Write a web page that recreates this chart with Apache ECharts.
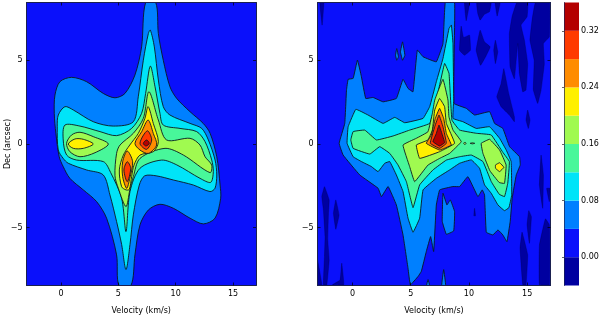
<!DOCTYPE html>
<html><head><meta charset="utf-8">
<style>html,body{margin:0;padding:0;background:#fff}#c{width:600px;height:315px}</style>
<script src="https://cdn.jsdelivr.net/npm/echarts@6/dist/echarts.min.js"></script></head>
<body><div id="c"></div>
<script>
// band limits and colours of the shared colour scale
const bandEdges=[-0.04,0,0.04,0.08,0.12,0.16,0.20,0.24,0.28,0.32,0.36];
const bandColors=['#0000a0','#0a10fb','#0080ff','#00e4f8','#48f79a','#a0fa50','#fff000','#ff8c00','#ff3a00','#b40000'];
const xTicks=[0,5,10,15];
const yTicks=[-5,0,5];
const barTicks=[0,0.08,0.16,0.24,0.32];

// contour outlines of the left panel: [velocity, dec]
const left04=[[[8.26,8.45],[8.49,6.6],[8.92,5.0],[9.5,3.42],[10.09,2.72],[11.25,1.93],[12.4,1.23],[13.0,0.64],[13.58,-0.76],[13.87,-2.45],[13.92,-3.24],[13.43,-4.43],[12.41,-4.77],[11.25,-4.43],[9.8,-3.84],[8.63,-3.6],[7.62,-3.94],[6.89,-4.83],[6.45,-6.62],[6.1,-8.45],[5.06,-8.45],[4.85,-6.62],[3.98,-4.43],[3.11,-3.44],[1.95,-2.74],[0.78,-2.05],[0.2,-1.35],[-0.15,-0.76],[-0.44,0.64],[-0.58,1.83],[-0.52,2.92],[-0.09,3.72],[0.93,3.98],[2.24,3.72],[3.69,3.02],[4.71,2.76],[5.58,3.02],[6.45,4.12],[7.03,5.8],[7.38,8.45]]];
const left08=[[[7.79,6.8],[8.14,5.8],[8.49,3.82],[8.92,2.23],[9.5,1.73],[11.25,1.23],[12.27,0.93],[12.85,0.24],[13.43,-0.95],[13.58,-1.85],[13.43,-2.64],[12.99,-2.84],[11.54,-2.45],[9.8,-2.15],[8.3,-1.9],[7.3,-1.9],[6.83,-2.45],[6.31,-4.23],[6.02,-6.0],[5.67,-7.5],[5.29,-6.0],[4.85,-4.63],[4.27,-3.04],[3.69,-1.85],[2.24,-1.55],[0.64,-1.15],[0.2,-0.86],[-0.23,-0.36],[-0.32,1.03],[-0.23,1.73],[0.35,2.23],[1.08,2.03],[2.82,1.33],[4.56,1.07],[6.31,1.33],[6.74,2.82],[7.18,5.0],[7.62,6.6]]];
const left12=[[[7.79,4.65],[8.2,3.42],[8.63,1.83],[8.92,1.13],[10.38,0.93],[11.83,0.74],[12.56,0.14],[13.14,-0.95],[13.28,-1.65],[13.05,-2.29],[12.12,-2.05],[10.1,-1.25],[8.77,-0.96],[6.89,-1.45],[6.02,-2.84],[5.67,-5.23],[5.29,-3.24],[4.33,-1.7],[3.69,-1.05],[1.37,-0.96],[0.5,-0.66],[0.2,0.24],[0.35,1.13],[1.66,1.07],[3.4,0.74],[4.85,0.5],[6.16,0.93],[7.03,1.83],[7.38,3.02]]];
const left16=[[[0.49,0.04],[0.93,0.54],[1.66,0.7],[2.82,0.44],[4.13,0],[2.97,-0.52],[1.66,-0.76],[0.78,-0.46]],
[[7.67,3.12],[8.49,1.43],[9.21,0.24],[11.25,0.34],[12.12,-0.06],[12.56,-0.76],[13.14,-1.26],[12.99,-1.71],[10.67,-0.66],[9.07,-0.26],[6.89,-0.86],[6.31,-1.95],[6.0,-2.75],[5.67,-3.74],[5.0,-2.64],[4.71,-1.9],[4.85,-0.56],[5.15,-0.06],[6.31,0.64],[7.18,1.53]]];
const left20=[[[0.64,0],[1.22,0.3],[1.95,0.28],[2.82,0],[1.95,-0.26],[1.08,-0.26]],
[[7.6,2.23],[8.05,1.23],[8.49,0.14],[8.05,-0.46],[6.89,-0.66],[6.37,-1.26],[6.16,-1.95],[5.96,-2.71],[5.67,-2.74],[5.29,-2.55],[5.09,-1.55],[5.44,-0.66],[6.0,-0.06],[6.74,0.63],[7.32,1.53]]];
const left24=[[[7.6,1.43],[8.05,0.63],[8.34,-0.06],[7.62,-0.56],[6.89,-0.36],[6.45,0.04],[7.03,0.73]],
[[5.78,-0.42],[6.25,-1.06],[6.0,-2.05],[5.73,-2.65],[5.38,-1.95],[5.38,-1.06]]];
const left28=[[[7.53,0.79],[7.91,0.24],[7.47,-0.32],[6.89,0.04]],
[[5.78,-1.06],[6.08,-1.45],[5.78,-2.25],[5.49,-1.55]]];
const left32=[[[7.47,0.24],[7.7,0.04],[7.41,-0.12],[7.18,0.04]]];

// contour outlines of the right panel: [velocity, dec]
const rightNeg=[[[-2.8,8.45],[-2.46,8.45],[-2.6,7.1]],
[[9.62,8.43],[10.05,8.43],[9.76,7.36]],
[[10.67,8.43],[11.9,8.43],[11.76,7.9],[11.33,7.75],[10.96,7.4],[10.76,7.8]],
[[12.25,8.43],[12.67,8.43],[12.42,7.64]],
[[9.33,7.04],[9.53,6.36],[10.05,6.5],[10.13,5.6],[9.62,5.3],[9.19,5.6]],
[[10.96,6.8],[11.33,6.1],[11.82,5.8],[11.42,5.2],[10.99,4.7],[10.62,5.6]],
[[12.27,6.2],[12.47,5.5],[12.27,4.8],[12.13,5.6]],
[[12.99,4.5],[13.42,3.0],[13.9,1.63],[13.9,1.33],[13.47,1.73],[12.76,2.23],[12.39,2.82],[12.76,3.6]],
[[14.1,8.43],[15.04,8.43],[14.99,7.6],[14.47,7.1],[14.76,6.2],[15.04,4.81],[14.9,3.22],[14.62,3.12],[14.33,4.21],[14.19,6.0],[13.9,3.9],[13.53,4.61],[13.47,6.6],[13.7,7.6]],
[[15.42,7.4],[15.7,8.43],[16.9,8.43],[16.9,6.4],[16.39,6.0],[16.47,4.81],[16.19,3.22],[15.9,2.42],[15.53,3.22],[15.6,5.0],[15.24,6.2]],
[[15.04,2.03],[15.24,1.43],[15.1,0.93],[14.9,1.43]],
[[16.19,-0.66],[16.39,-1.85],[16.33,-3.84],[16.05,-2.45]],
[[16.67,-2.65],[16.96,-2.65],[16.9,-3.44]],
[[15.13,-3.98],[15.36,-4.34],[15.19,-5.93],[14.99,-4.83]],
[[14.56,-5.27],[15.04,-6.62],[14.9,-8.41],[14.62,-8.41],[14.39,-6.23]],
[[16.56,-4.47],[16.9,-4.83],[16.9,-8.41],[16.05,-8.41],[16.05,-6.03]],
[[10.48,-3.84],[10.56,-4.28],[10.42,-4.28]],
[[-2.4,-2.55],[-2.0,-3.34],[-2.06,-4.14],[-2.12,-5.73],[-2.0,-6.92],[-2.2,-8.41],[-2.49,-8.41],[-2.4,-6.72],[-2.35,-5.53],[-2.49,-3.94],[-2.63,-3.14]],
[[-1.43,-3.34],[-1.15,-4.24],[-1.43,-5.09],[-1.63,-4.14]],
[[-3,-6.92],[-2.63,-8.41],[-3,-8.41]],
[[-0.92,-7.12],[-0.75,-8.41],[-1.72,-8.41],[-1.06,-8.12]]];
const right04=[[[8.77,8.45],[8.71,2.43],[9.77,2.13],[10.49,1.73],[11.77,1.93],[12.2,1.23],[12.91,0.93],[13.49,-0.16],[14.34,-0.76],[14.4,-1.25],[14.06,-1.85],[13.71,-3.24],[13.54,-4.63],[13.26,-5.83],[12.91,-5.43],[12.49,-5.13],[12.06,-5.43],[11.49,-5.27],[11.34,-3.04],[11.14,-2.74],[10.77,-3.14],[9.91,-1.95],[9.2,-2.54],[8.63,-2.54],[7.49,-2.74],[7.2,-3.64],[6.97,-6.42],[6.71,-5.53],[6.34,-6.42],[5.91,-7.61],[5.63,-7.91],[4.97,-8.41],[4.77,-7.42],[4.34,-5.43],[3.77,-3.64],[3.06,-2.54],[2.49,-3.14],[2.2,-2.64],[0.63,-1.85],[-0.8,-0.66],[-1.14,0.04],[-0.66,1.23],[-0.51,3.22],[-0.37,3.86],[0.06,3.92],[0.43,5.01],[0.77,4.02],[1.14,2.72],[1.77,2.78],[2.63,2.52],[3.77,2.72],[4.34,3.86],[4.77,3.32],[5.2,3.12],[5.57,5.61],[6.06,5.21],[7.2,4.91],[7.77,6.0],[7.97,8.45]],
[[3.8,5.7],[3.95,5.2],[3.8,5.0],[3.7,5.3]],[[4.3,6.1],[4.5,5.3],[4.3,5.0],[4.12,5.5]],
[[7.77,-2.94],[8.11,-3.64],[8.4,-3.34],[8.77,-4.04],[8.69,-5.19],[8.06,-5.39],[7.71,-4.63]],
[[6.49,-8.1],[6.62,-8.45],[6.36,-8.45]],[[7.83,-7.5],[8.0,-8.45],[7.66,-8.45]]];
const right08=[[[8.49,7.1],[8.63,6.0],[8.69,2.62],[8.63,1.53],[9.49,1.33],[10.63,0.93],[11.77,1.03],[12.63,0.34],[13.2,-0.36],[13.62,-1.05],[13.67,-3.04],[13.43,-3.8],[13.05,-3.98],[12.49,-3.64],[11.91,-2.94],[11.34,-2.44],[10.91,-1.45],[10.2,-0.95],[9.2,-1.15],[8.34,-1.55],[7.2,-2.05],[6.06,-2.74],[5.77,-4.43],[5.2,-5.27],[4.77,-4.43],[4.34,-2.84],[3.77,-1.85],[3.2,-1.05],[2.77,-1.15],[2.2,-1.65],[1.63,-1.35],[0.77,-1.05],[0.06,-0.76],[-0.46,0.04],[-0.37,1.03],[0.29,2.07],[1.34,1.73],[2.63,1.23],[3.63,1.59],[4.49,1.27],[6.06,1.53],[6.63,2.23],[7.2,3.72],[7.77,5.11],[8.29,6.9]]];
const right12=[[[7.91,4.81],[8.29,4.21],[8.54,1.43],[9.2,0.83],[10.63,0.64],[11.91,0.54],[12.91,-0.5],[13.47,-1.05],[13.33,-2.35],[13.05,-3.14],[12.6,-3.0],[11.91,-2.24],[11.2,-1.05],[10.2,-0.66],[9.2,-0.76],[8.06,-0.96],[6.91,-1.55],[5.77,-2.44],[5.2,-3.8],[4.63,-2.25],[3.91,-1.25],[3.2,-0.56],[2.34,-0.16],[1.49,-0.6],[0.06,-0.26],[-0.14,0.24],[0.06,0.74],[1.06,0.83],[2.06,0.24],[3.49,0.48],[4.91,0.83],[6.63,1.23],[7.2,2.62]]];
const right16=[[[7.77,3.86],[8.2,2.62],[8.28,1.63],[8.63,0.83],[9.34,0.14],[8.34,-0.56],[7.48,-0.86],[6.48,-1.26],[5.34,-2.25],[4.91,-1.35],[4.34,-0.06],[5.48,0.34],[6.48,0.73],[6.86,1.83],[7.06,2.62]],
[[11.05,0.04],[11.77,0.28],[12.63,-0.36],[13.19,-1.25],[13.05,-2.35],[12.6,-2.3],[11.8,-1.6],[11.2,-0.56]],
[[9.55,0.04],[9.65,0.12],[9.75,0.04],[9.65,-0.04]],[[10.1,0.04],[10.3,0.07],[10.5,0.04],[10.3,0.01]]];
const right20=[[[7.48,2.72],[7.91,2.23],[8.06,1.23],[8.77,0.04],[7.48,-0.46],[5.77,-0.86],[5.48,-0.06],[6.48,0.24],[6.86,0.83],[7.06,2.03]],
[[12.28,-1.25],[12.63,-1.12],[13.0,-1.39],[12.63,-1.65],[12.28,-1.45]]];
const right24=[[[7.48,2.13],[7.83,1.53],[8.06,0.63],[8.48,-0.06],[7.48,-0.36],[6.34,0.04],[6.77,0.53],[7.11,1.53]]];
const right28=[[[7.43,1.73],[7.77,1.03],[8.06,0.04],[7.48,-0.26],[6.68,0.04],[7.06,1.03]]];
const right32=[[[7.43,1.13],[7.77,0.43],[7.91,0.08],[7.48,-0.12],[6.91,0.14],[7.2,0.63]]];

const leftLevels=[[2,left04],[3,left08],[4,left12],[5,left16],[6,left20],[7,left24],[8,left28],[9,left32]];
const rightLevels=[[0,rightNeg],[2,right04],[3,right08],[4,right12],[5,right16],[6,right20],[7,right24],[8,right28],[9,right32]];

function items(levels){const out=[];levels.forEach(([band,polys])=>polys.forEach(p=>out.push({band,p})));return out;}
function contourSeries(idx,levels,smooth){
  const list=items(levels);
  return {type:'custom',coordinateSystem:'cartesian2d',xAxisIndex:idx,yAxisIndex:idx,clip:true,silent:true,z:2,
    data:list.map((_,i)=>[i]),encode:{x:[],y:[]},animation:false,
    renderItem:(params,api)=>{
      const it=list[api.value(0)];
      return {type:'polygon',shape:{points:it.p.map(q=>api.coord(q)),smooth:smooth},
        style:{fill:bandColors[it.band],stroke:it.band===0?'rgba(0,0,60,0.6)':'#0a1a20',lineWidth:it.band===0?0.5:0.9}};
    }};
}
const tickFmt=v=>v<0?'\u2212'+Math.abs(v):String(v);
const font={color:'#000',fontFamily:'DejaVu Sans',fontSize:8};
const frame={show:true,onZero:false,lineStyle:{color:'#1a2050',width:1}};
function xAx(gridIndex,position,labels,name){return {type:'value',gridIndex,position,min:-3,max:17,z:5,splitLine:{show:false},
  axisLine:frame,axisTick:{show:true,inside:true,length:3,customValues:xTicks,lineStyle:{color:'#000',width:0.7}},
  axisLabel:{show:labels,customValues:xTicks,formatter:tickFmt,margin:4,...font},
  name:name,nameLocation:'middle',nameGap:21,nameTextStyle:font};}
function yAx(gridIndex,position,labels,name){return {type:'value',gridIndex,position,min:-8.45,max:8.45,z:5,splitLine:{show:false},
  axisLine:frame,axisTick:{show:true,inside:true,length:3,customValues:yTicks,lineStyle:{color:'#000',width:0.7}},
  axisLabel:{show:labels,customValues:yTicks,formatter:tickFmt,margin:4,...font},
  name:name,nameLocation:'middle',nameGap:15,nameMoveOverlap:false,nameTextStyle:font};}

const bars=bandColors.map((c,i)=>[bandEdges[i],bandEdges[i+1],i]);
const gridBase={outerBoundsMode:'none',containLabel:false,top:2.5,height:283,borderWidth:0};
const option={animation:false,backgroundColor:'#fff',
 grid:[{...gridBase,left:26.5,width:229.5,show:true,backgroundColor:bandColors[1]},
       {...gridBase,left:317.5,width:233,show:true,backgroundColor:bandColors[1]},
       {...gridBase,left:564,width:15}],
 xAxis:[xAx(0,'bottom',true,'Velocity (km/s)'),xAx(1,'bottom',true,'Velocity (km/s)'),
   {type:'value',gridIndex:2,min:0,max:1,show:false},
   xAx(0,'top',false,''),xAx(1,'top',false,'')],
 yAxis:[yAx(0,'left',true,'Dec (arcsec)'),yAx(1,'left',true,''),
   {type:'value',gridIndex:2,position:'right',min:-0.04,max:0.36,z:5,splitLine:{show:false},
    axisLine:{show:true,lineStyle:{color:'#1a2050',width:0.7}},
    axisTick:{show:true,inside:true,length:2,customValues:barTicks,lineStyle:{color:'#000',width:0.6}},
    axisLabel:{customValues:barTicks,formatter:v=>v.toFixed(2),margin:2,...font}},
   yAx(0,'right',false,''),yAx(1,'right',false,'')],
 series:[contourSeries(0,leftLevels,0.3),contourSeries(1,rightLevels,0.08),
  {type:'custom',coordinateSystem:'cartesian2d',xAxisIndex:2,yAxisIndex:2,silent:true,z:2,data:bars,encode:{y:[0,1]},
   renderItem:(params,api)=>{
     const a=api.coord([0,api.value(0)]),b=api.coord([1,api.value(1)]);
     return {type:'rect',shape:{x:a[0],y:b[1],width:b[0]-a[0],height:a[1]-b[1]},style:{fill:bandColors[api.value(2)]}};
   }}]
};
const chart=echarts.init(document.getElementById('c'),null,{renderer:'canvas'});
chart.setOption(option);
</script></body></html>
